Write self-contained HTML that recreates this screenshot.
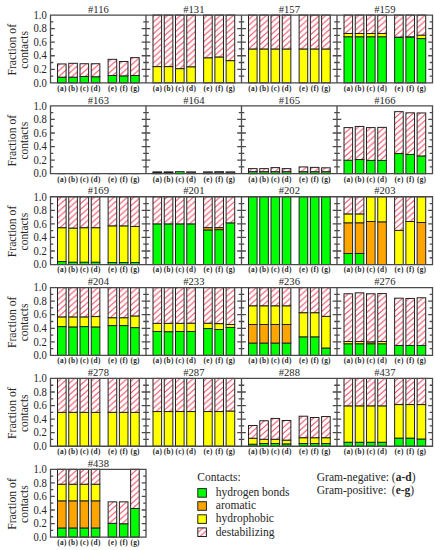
<!DOCTYPE html><html><head><meta charset="utf-8"><title>Fraction of contacts</title>
<style>html,body{margin:0;padding:0;background:#fff;}svg{display:block;}text{font-family:"Liberation Serif",serif;fill:#262626;}</style></head><body>
<svg width="435" height="550" viewBox="0 0 435 550">
<defs>
<pattern id="h" patternUnits="userSpaceOnUse" width="6.6" height="5.85"><rect width="6.6" height="5.85" fill="#fff"/><path d="M-6.6,5.85 L6.6,-5.85 M-6.6,11.7 L13.2,-5.85 M0,11.7 L13.2,0" stroke="#f2455c" stroke-width="0.95" fill="none"/></pattern>
</defs>
<rect width="435" height="550" fill="#fff"/>
<rect x="57.5" y="77.15" width="8.6" height="5.7" fill="#00ff00" stroke="#222" stroke-width="1"/>
<rect x="57.5" y="63.93" width="8.6" height="13.22" fill="url(#h)" stroke="#222" stroke-width="1"/>
<rect x="68.75" y="77.15" width="8.6" height="5.7" fill="#00ff00" stroke="#222" stroke-width="1"/>
<rect x="68.75" y="63.32" width="8.6" height="13.83" fill="url(#h)" stroke="#222" stroke-width="1"/>
<rect x="80" y="76.48" width="8.6" height="6.37" fill="#00ff00" stroke="#222" stroke-width="1"/>
<rect x="80" y="63.73" width="8.6" height="12.75" fill="url(#h)" stroke="#222" stroke-width="1"/>
<rect x="91.25" y="76.75" width="8.6" height="6.1" fill="#00ff00" stroke="#222" stroke-width="1"/>
<rect x="91.25" y="63.73" width="8.6" height="13.02" fill="url(#h)" stroke="#222" stroke-width="1"/>
<rect x="108.12" y="75.46" width="8.6" height="7.39" fill="#00ff00" stroke="#222" stroke-width="1"/>
<rect x="108.12" y="59.32" width="8.6" height="16.14" fill="url(#h)" stroke="#222" stroke-width="1"/>
<rect x="119.38" y="75.87" width="8.6" height="6.98" fill="#00ff00" stroke="#222" stroke-width="1"/>
<rect x="119.38" y="61.49" width="8.6" height="14.37" fill="url(#h)" stroke="#222" stroke-width="1"/>
<rect x="130.62" y="75.46" width="8.6" height="7.39" fill="#00ff00" stroke="#222" stroke-width="1"/>
<rect x="130.62" y="57.63" width="8.6" height="17.83" fill="url(#h)" stroke="#222" stroke-width="1"/>
<text transform="translate(98.35,12.65) scale(0.93,1)" font-size="11.4" text-anchor="middle">#116</text>
<text x="62" y="90.65" font-size="7.3" font-weight="bold" letter-spacing="0.3" fill="#111" text-anchor="middle">(a)</text>
<text x="73.25" y="90.65" font-size="7.3" font-weight="bold" letter-spacing="0.3" fill="#111" text-anchor="middle">(b)</text>
<text x="84.5" y="90.65" font-size="7.3" font-weight="bold" letter-spacing="0.3" fill="#111" text-anchor="middle">(c)</text>
<text x="95.75" y="90.65" font-size="7.3" font-weight="bold" letter-spacing="0.3" fill="#111" text-anchor="middle">(d)</text>
<text x="112.62" y="90.65" font-size="7.3" font-weight="bold" letter-spacing="0.3" fill="#111" text-anchor="middle">(e)</text>
<text x="123.88" y="90.65" font-size="7.3" font-weight="bold" letter-spacing="0.3" fill="#111" text-anchor="middle">(f)</text>
<text x="135.12" y="90.65" font-size="7.3" font-weight="bold" letter-spacing="0.3" fill="#111" text-anchor="middle">(g)</text>
<rect x="153" y="66.58" width="8.6" height="16.27" fill="#ffff00" stroke="#222" stroke-width="1"/>
<rect x="153" y="15.05" width="8.6" height="51.53" fill="url(#h)" stroke="#222" stroke-width="1"/>
<rect x="164.25" y="66.58" width="8.6" height="16.27" fill="#ffff00" stroke="#222" stroke-width="1"/>
<rect x="164.25" y="15.05" width="8.6" height="51.53" fill="url(#h)" stroke="#222" stroke-width="1"/>
<rect x="175.5" y="68.61" width="8.6" height="14.24" fill="#ffff00" stroke="#222" stroke-width="1"/>
<rect x="175.5" y="15.05" width="8.6" height="53.56" fill="url(#h)" stroke="#222" stroke-width="1"/>
<rect x="186.75" y="66.78" width="8.6" height="16.07" fill="#ffff00" stroke="#222" stroke-width="1"/>
<rect x="186.75" y="15.05" width="8.6" height="51.73" fill="url(#h)" stroke="#222" stroke-width="1"/>
<rect x="203.62" y="57.76" width="8.6" height="25.09" fill="#ffff00" stroke="#222" stroke-width="1"/>
<rect x="203.62" y="15.05" width="8.6" height="42.71" fill="url(#h)" stroke="#222" stroke-width="1"/>
<rect x="214.88" y="56.95" width="8.6" height="25.9" fill="#ffff00" stroke="#222" stroke-width="1"/>
<rect x="214.88" y="15.05" width="8.6" height="41.9" fill="url(#h)" stroke="#222" stroke-width="1"/>
<rect x="226.12" y="60.61" width="8.6" height="22.24" fill="#ffff00" stroke="#222" stroke-width="1"/>
<rect x="226.12" y="15.05" width="8.6" height="45.56" fill="url(#h)" stroke="#222" stroke-width="1"/>
<text transform="translate(193.85,12.65) scale(0.93,1)" font-size="11.4" text-anchor="middle">#131</text>
<text x="157.5" y="90.65" font-size="7.3" font-weight="bold" letter-spacing="0.3" fill="#111" text-anchor="middle">(a)</text>
<text x="168.75" y="90.65" font-size="7.3" font-weight="bold" letter-spacing="0.3" fill="#111" text-anchor="middle">(b)</text>
<text x="180" y="90.65" font-size="7.3" font-weight="bold" letter-spacing="0.3" fill="#111" text-anchor="middle">(c)</text>
<text x="191.25" y="90.65" font-size="7.3" font-weight="bold" letter-spacing="0.3" fill="#111" text-anchor="middle">(d)</text>
<text x="208.12" y="90.65" font-size="7.3" font-weight="bold" letter-spacing="0.3" fill="#111" text-anchor="middle">(e)</text>
<text x="219.38" y="90.65" font-size="7.3" font-weight="bold" letter-spacing="0.3" fill="#111" text-anchor="middle">(f)</text>
<text x="230.62" y="90.65" font-size="7.3" font-weight="bold" letter-spacing="0.3" fill="#111" text-anchor="middle">(g)</text>
<rect x="248.5" y="48.95" width="8.6" height="33.9" fill="#ffff00" stroke="#222" stroke-width="1"/>
<rect x="248.5" y="15.05" width="8.6" height="33.9" fill="url(#h)" stroke="#222" stroke-width="1"/>
<rect x="259.75" y="48.95" width="8.6" height="33.9" fill="#ffff00" stroke="#222" stroke-width="1"/>
<rect x="259.75" y="15.05" width="8.6" height="33.9" fill="url(#h)" stroke="#222" stroke-width="1"/>
<rect x="271" y="48.95" width="8.6" height="33.9" fill="#ffff00" stroke="#222" stroke-width="1"/>
<rect x="271" y="15.05" width="8.6" height="33.9" fill="url(#h)" stroke="#222" stroke-width="1"/>
<rect x="282.25" y="48.95" width="8.6" height="33.9" fill="#ffff00" stroke="#222" stroke-width="1"/>
<rect x="282.25" y="15.05" width="8.6" height="33.9" fill="url(#h)" stroke="#222" stroke-width="1"/>
<rect x="299.12" y="48.95" width="8.6" height="33.9" fill="#ffff00" stroke="#222" stroke-width="1"/>
<rect x="299.12" y="15.05" width="8.6" height="33.9" fill="url(#h)" stroke="#222" stroke-width="1"/>
<rect x="310.38" y="48.95" width="8.6" height="33.9" fill="#ffff00" stroke="#222" stroke-width="1"/>
<rect x="310.38" y="15.05" width="8.6" height="33.9" fill="url(#h)" stroke="#222" stroke-width="1"/>
<rect x="321.62" y="48.95" width="8.6" height="33.9" fill="#ffff00" stroke="#222" stroke-width="1"/>
<rect x="321.62" y="15.05" width="8.6" height="33.9" fill="url(#h)" stroke="#222" stroke-width="1"/>
<text transform="translate(289.35,12.65) scale(0.93,1)" font-size="11.4" text-anchor="middle">#157</text>
<text x="253" y="90.65" font-size="7.3" font-weight="bold" letter-spacing="0.3" fill="#111" text-anchor="middle">(a)</text>
<text x="264.25" y="90.65" font-size="7.3" font-weight="bold" letter-spacing="0.3" fill="#111" text-anchor="middle">(b)</text>
<text x="275.5" y="90.65" font-size="7.3" font-weight="bold" letter-spacing="0.3" fill="#111" text-anchor="middle">(c)</text>
<text x="286.75" y="90.65" font-size="7.3" font-weight="bold" letter-spacing="0.3" fill="#111" text-anchor="middle">(d)</text>
<text x="303.62" y="90.65" font-size="7.3" font-weight="bold" letter-spacing="0.3" fill="#111" text-anchor="middle">(e)</text>
<text x="314.88" y="90.65" font-size="7.3" font-weight="bold" letter-spacing="0.3" fill="#111" text-anchor="middle">(f)</text>
<text x="326.12" y="90.65" font-size="7.3" font-weight="bold" letter-spacing="0.3" fill="#111" text-anchor="middle">(g)</text>
<rect x="344" y="36.75" width="8.6" height="46.1" fill="#00ff00" stroke="#222" stroke-width="1"/>
<rect x="344" y="33.49" width="8.6" height="3.25" fill="#ffff00" stroke="#222" stroke-width="1"/>
<rect x="344" y="15.05" width="8.6" height="18.44" fill="url(#h)" stroke="#222" stroke-width="1"/>
<rect x="355.25" y="36.75" width="8.6" height="46.1" fill="#00ff00" stroke="#222" stroke-width="1"/>
<rect x="355.25" y="33.49" width="8.6" height="3.25" fill="#ffff00" stroke="#222" stroke-width="1"/>
<rect x="355.25" y="15.05" width="8.6" height="18.44" fill="url(#h)" stroke="#222" stroke-width="1"/>
<rect x="366.5" y="36.75" width="8.6" height="46.1" fill="#00ff00" stroke="#222" stroke-width="1"/>
<rect x="366.5" y="33.49" width="8.6" height="3.25" fill="#ffff00" stroke="#222" stroke-width="1"/>
<rect x="366.5" y="15.05" width="8.6" height="18.44" fill="url(#h)" stroke="#222" stroke-width="1"/>
<rect x="377.75" y="36.75" width="8.6" height="46.1" fill="#00ff00" stroke="#222" stroke-width="1"/>
<rect x="377.75" y="33.49" width="8.6" height="3.25" fill="#ffff00" stroke="#222" stroke-width="1"/>
<rect x="377.75" y="15.05" width="8.6" height="18.44" fill="url(#h)" stroke="#222" stroke-width="1"/>
<rect x="394.62" y="37.49" width="8.6" height="45.36" fill="#00ff00" stroke="#222" stroke-width="1"/>
<rect x="394.62" y="37.08" width="8.6" height="0.41" fill="#ffff00" stroke="#222" stroke-width="1"/>
<rect x="394.62" y="15.05" width="8.6" height="22.03" fill="url(#h)" stroke="#222" stroke-width="1"/>
<rect x="405.88" y="37.02" width="8.6" height="45.83" fill="#00ff00" stroke="#222" stroke-width="1"/>
<rect x="405.88" y="36.75" width="8.6" height="0.27" fill="#ffff00" stroke="#222" stroke-width="1"/>
<rect x="405.88" y="15.05" width="8.6" height="21.7" fill="url(#h)" stroke="#222" stroke-width="1"/>
<rect x="417.12" y="38.58" width="8.6" height="44.27" fill="#00ff00" stroke="#222" stroke-width="1"/>
<rect x="417.12" y="35.12" width="8.6" height="3.46" fill="#ffff00" stroke="#222" stroke-width="1"/>
<rect x="417.12" y="15.05" width="8.6" height="20.07" fill="url(#h)" stroke="#222" stroke-width="1"/>
<text transform="translate(384.85,12.65) scale(0.93,1)" font-size="11.4" text-anchor="middle">#159</text>
<text x="348.5" y="90.65" font-size="7.3" font-weight="bold" letter-spacing="0.3" fill="#111" text-anchor="middle">(a)</text>
<text x="359.75" y="90.65" font-size="7.3" font-weight="bold" letter-spacing="0.3" fill="#111" text-anchor="middle">(b)</text>
<text x="371" y="90.65" font-size="7.3" font-weight="bold" letter-spacing="0.3" fill="#111" text-anchor="middle">(c)</text>
<text x="382.25" y="90.65" font-size="7.3" font-weight="bold" letter-spacing="0.3" fill="#111" text-anchor="middle">(d)</text>
<text x="399.12" y="90.65" font-size="7.3" font-weight="bold" letter-spacing="0.3" fill="#111" text-anchor="middle">(e)</text>
<text x="410.38" y="90.65" font-size="7.3" font-weight="bold" letter-spacing="0.3" fill="#111" text-anchor="middle">(f)</text>
<text x="421.62" y="90.65" font-size="7.3" font-weight="bold" letter-spacing="0.3" fill="#111" text-anchor="middle">(g)</text>
<line x1="57.5" y1="173.7" x2="66.1" y2="173.7" stroke="#222" stroke-width="1"/>
<line x1="68.75" y1="173.7" x2="77.35" y2="173.7" stroke="#222" stroke-width="1"/>
<line x1="80" y1="173.7" x2="88.6" y2="173.7" stroke="#222" stroke-width="1"/>
<line x1="91.25" y1="173.7" x2="99.85" y2="173.7" stroke="#222" stroke-width="1"/>
<line x1="108.12" y1="173.7" x2="116.72" y2="173.7" stroke="#222" stroke-width="1"/>
<line x1="119.38" y1="173.7" x2="127.97" y2="173.7" stroke="#222" stroke-width="1"/>
<line x1="130.62" y1="173.7" x2="139.22" y2="173.7" stroke="#222" stroke-width="1"/>
<text transform="translate(98.35,103.5) scale(0.93,1)" font-size="11.4" text-anchor="middle">#163</text>
<text x="62" y="181.5" font-size="7.3" font-weight="bold" letter-spacing="0.3" fill="#111" text-anchor="middle">(a)</text>
<text x="73.25" y="181.5" font-size="7.3" font-weight="bold" letter-spacing="0.3" fill="#111" text-anchor="middle">(b)</text>
<text x="84.5" y="181.5" font-size="7.3" font-weight="bold" letter-spacing="0.3" fill="#111" text-anchor="middle">(c)</text>
<text x="95.75" y="181.5" font-size="7.3" font-weight="bold" letter-spacing="0.3" fill="#111" text-anchor="middle">(d)</text>
<text x="112.62" y="181.5" font-size="7.3" font-weight="bold" letter-spacing="0.3" fill="#111" text-anchor="middle">(e)</text>
<text x="123.88" y="181.5" font-size="7.3" font-weight="bold" letter-spacing="0.3" fill="#111" text-anchor="middle">(f)</text>
<text x="135.12" y="181.5" font-size="7.3" font-weight="bold" letter-spacing="0.3" fill="#111" text-anchor="middle">(g)</text>
<rect x="153" y="172.89" width="8.6" height="0.81" fill="#00ff00" stroke="#222" stroke-width="1"/>
<rect x="153" y="171.87" width="8.6" height="1.02" fill="url(#h)" stroke="#222" stroke-width="1"/>
<rect x="164.25" y="172.68" width="8.6" height="1.02" fill="#00ff00" stroke="#222" stroke-width="1"/>
<rect x="164.25" y="171.87" width="8.6" height="0.81" fill="url(#h)" stroke="#222" stroke-width="1"/>
<rect x="175.5" y="171.67" width="8.6" height="2.03" fill="#00ff00" stroke="#222" stroke-width="1"/>
<rect x="186.75" y="173.02" width="8.6" height="0.68" fill="#00ff00" stroke="#222" stroke-width="1"/>
<rect x="186.75" y="171.87" width="8.6" height="1.15" fill="url(#h)" stroke="#222" stroke-width="1"/>
<rect x="203.62" y="173.02" width="8.6" height="0.68" fill="#00ff00" stroke="#222" stroke-width="1"/>
<rect x="203.62" y="171.87" width="8.6" height="1.15" fill="url(#h)" stroke="#222" stroke-width="1"/>
<rect x="214.88" y="172.89" width="8.6" height="0.81" fill="#00ff00" stroke="#222" stroke-width="1"/>
<rect x="214.88" y="171.67" width="8.6" height="1.22" fill="url(#h)" stroke="#222" stroke-width="1"/>
<rect x="226.12" y="173.02" width="8.6" height="0.68" fill="#00ff00" stroke="#222" stroke-width="1"/>
<rect x="226.12" y="171.87" width="8.6" height="1.15" fill="url(#h)" stroke="#222" stroke-width="1"/>
<text transform="translate(193.85,103.5) scale(0.93,1)" font-size="11.4" text-anchor="middle">#164</text>
<text x="157.5" y="181.5" font-size="7.3" font-weight="bold" letter-spacing="0.3" fill="#111" text-anchor="middle">(a)</text>
<text x="168.75" y="181.5" font-size="7.3" font-weight="bold" letter-spacing="0.3" fill="#111" text-anchor="middle">(b)</text>
<text x="180" y="181.5" font-size="7.3" font-weight="bold" letter-spacing="0.3" fill="#111" text-anchor="middle">(c)</text>
<text x="191.25" y="181.5" font-size="7.3" font-weight="bold" letter-spacing="0.3" fill="#111" text-anchor="middle">(d)</text>
<text x="208.12" y="181.5" font-size="7.3" font-weight="bold" letter-spacing="0.3" fill="#111" text-anchor="middle">(e)</text>
<text x="219.38" y="181.5" font-size="7.3" font-weight="bold" letter-spacing="0.3" fill="#111" text-anchor="middle">(f)</text>
<text x="230.62" y="181.5" font-size="7.3" font-weight="bold" letter-spacing="0.3" fill="#111" text-anchor="middle">(g)</text>
<rect x="248.5" y="171.67" width="8.6" height="2.03" fill="#00ff00" stroke="#222" stroke-width="1"/>
<rect x="248.5" y="168.61" width="8.6" height="3.05" fill="url(#h)" stroke="#222" stroke-width="1"/>
<rect x="259.75" y="171.67" width="8.6" height="2.03" fill="#00ff00" stroke="#222" stroke-width="1"/>
<rect x="259.75" y="168.61" width="8.6" height="3.05" fill="url(#h)" stroke="#222" stroke-width="1"/>
<rect x="271" y="171.67" width="8.6" height="2.03" fill="#00ff00" stroke="#222" stroke-width="1"/>
<rect x="271" y="167.6" width="8.6" height="4.07" fill="url(#h)" stroke="#222" stroke-width="1"/>
<rect x="282.25" y="171.67" width="8.6" height="2.03" fill="#00ff00" stroke="#222" stroke-width="1"/>
<rect x="282.25" y="168.61" width="8.6" height="3.05" fill="url(#h)" stroke="#222" stroke-width="1"/>
<rect x="299.12" y="171.67" width="8.6" height="2.03" fill="#00ff00" stroke="#222" stroke-width="1"/>
<rect x="299.12" y="166.92" width="8.6" height="4.75" fill="url(#h)" stroke="#222" stroke-width="1"/>
<rect x="310.38" y="171.67" width="8.6" height="2.03" fill="#00ff00" stroke="#222" stroke-width="1"/>
<rect x="310.38" y="167.39" width="8.6" height="4.27" fill="url(#h)" stroke="#222" stroke-width="1"/>
<rect x="321.62" y="171.67" width="8.6" height="2.03" fill="#00ff00" stroke="#222" stroke-width="1"/>
<rect x="321.62" y="167.8" width="8.6" height="3.86" fill="url(#h)" stroke="#222" stroke-width="1"/>
<text transform="translate(289.35,103.5) scale(0.93,1)" font-size="11.4" text-anchor="middle">#165</text>
<text x="253" y="181.5" font-size="7.3" font-weight="bold" letter-spacing="0.3" fill="#111" text-anchor="middle">(a)</text>
<text x="264.25" y="181.5" font-size="7.3" font-weight="bold" letter-spacing="0.3" fill="#111" text-anchor="middle">(b)</text>
<text x="275.5" y="181.5" font-size="7.3" font-weight="bold" letter-spacing="0.3" fill="#111" text-anchor="middle">(c)</text>
<text x="286.75" y="181.5" font-size="7.3" font-weight="bold" letter-spacing="0.3" fill="#111" text-anchor="middle">(d)</text>
<text x="303.62" y="181.5" font-size="7.3" font-weight="bold" letter-spacing="0.3" fill="#111" text-anchor="middle">(e)</text>
<text x="314.88" y="181.5" font-size="7.3" font-weight="bold" letter-spacing="0.3" fill="#111" text-anchor="middle">(f)</text>
<text x="326.12" y="181.5" font-size="7.3" font-weight="bold" letter-spacing="0.3" fill="#111" text-anchor="middle">(g)</text>
<rect x="344" y="160.21" width="8.6" height="13.49" fill="#00ff00" stroke="#222" stroke-width="1"/>
<rect x="344" y="127.6" width="8.6" height="32.61" fill="url(#h)" stroke="#222" stroke-width="1"/>
<rect x="355.25" y="159.53" width="8.6" height="14.17" fill="#00ff00" stroke="#222" stroke-width="1"/>
<rect x="355.25" y="126.44" width="8.6" height="33.09" fill="url(#h)" stroke="#222" stroke-width="1"/>
<rect x="366.5" y="160.41" width="8.6" height="13.29" fill="#00ff00" stroke="#222" stroke-width="1"/>
<rect x="366.5" y="127.6" width="8.6" height="32.82" fill="url(#h)" stroke="#222" stroke-width="1"/>
<rect x="377.75" y="160.41" width="8.6" height="13.29" fill="#00ff00" stroke="#222" stroke-width="1"/>
<rect x="377.75" y="127.39" width="8.6" height="33.02" fill="url(#h)" stroke="#222" stroke-width="1"/>
<rect x="394.62" y="153.56" width="8.6" height="20.14" fill="#00ff00" stroke="#222" stroke-width="1"/>
<rect x="394.62" y="111.66" width="8.6" height="41.9" fill="url(#h)" stroke="#222" stroke-width="1"/>
<rect x="405.88" y="154.44" width="8.6" height="19.26" fill="#00ff00" stroke="#222" stroke-width="1"/>
<rect x="405.88" y="112.82" width="8.6" height="41.63" fill="url(#h)" stroke="#222" stroke-width="1"/>
<rect x="417.12" y="155.94" width="8.6" height="17.76" fill="#00ff00" stroke="#222" stroke-width="1"/>
<rect x="417.12" y="112.95" width="8.6" height="42.99" fill="url(#h)" stroke="#222" stroke-width="1"/>
<text transform="translate(384.85,103.5) scale(0.93,1)" font-size="11.4" text-anchor="middle">#166</text>
<text x="348.5" y="181.5" font-size="7.3" font-weight="bold" letter-spacing="0.3" fill="#111" text-anchor="middle">(a)</text>
<text x="359.75" y="181.5" font-size="7.3" font-weight="bold" letter-spacing="0.3" fill="#111" text-anchor="middle">(b)</text>
<text x="371" y="181.5" font-size="7.3" font-weight="bold" letter-spacing="0.3" fill="#111" text-anchor="middle">(c)</text>
<text x="382.25" y="181.5" font-size="7.3" font-weight="bold" letter-spacing="0.3" fill="#111" text-anchor="middle">(d)</text>
<text x="399.12" y="181.5" font-size="7.3" font-weight="bold" letter-spacing="0.3" fill="#111" text-anchor="middle">(e)</text>
<text x="410.38" y="181.5" font-size="7.3" font-weight="bold" letter-spacing="0.3" fill="#111" text-anchor="middle">(f)</text>
<text x="421.62" y="181.5" font-size="7.3" font-weight="bold" letter-spacing="0.3" fill="#111" text-anchor="middle">(g)</text>
<rect x="57.5" y="261.57" width="8.6" height="2.98" fill="#00ff00" stroke="#222" stroke-width="1"/>
<rect x="57.5" y="227.67" width="8.6" height="33.9" fill="#ffff00" stroke="#222" stroke-width="1"/>
<rect x="57.5" y="196.75" width="8.6" height="30.92" fill="url(#h)" stroke="#222" stroke-width="1"/>
<rect x="68.75" y="262.18" width="8.6" height="2.37" fill="#00ff00" stroke="#222" stroke-width="1"/>
<rect x="68.75" y="228.07" width="8.6" height="34.1" fill="#ffff00" stroke="#222" stroke-width="1"/>
<rect x="68.75" y="196.75" width="8.6" height="31.32" fill="url(#h)" stroke="#222" stroke-width="1"/>
<rect x="80" y="262.18" width="8.6" height="2.37" fill="#00ff00" stroke="#222" stroke-width="1"/>
<rect x="80" y="227.67" width="8.6" height="34.51" fill="#ffff00" stroke="#222" stroke-width="1"/>
<rect x="80" y="196.75" width="8.6" height="30.92" fill="url(#h)" stroke="#222" stroke-width="1"/>
<rect x="91.25" y="262.18" width="8.6" height="2.37" fill="#00ff00" stroke="#222" stroke-width="1"/>
<rect x="91.25" y="227.67" width="8.6" height="34.51" fill="#ffff00" stroke="#222" stroke-width="1"/>
<rect x="91.25" y="196.75" width="8.6" height="30.92" fill="url(#h)" stroke="#222" stroke-width="1"/>
<rect x="108.12" y="262.52" width="8.6" height="2.03" fill="#00ff00" stroke="#222" stroke-width="1"/>
<rect x="108.12" y="225.84" width="8.6" height="36.68" fill="#ffff00" stroke="#222" stroke-width="1"/>
<rect x="108.12" y="196.75" width="8.6" height="29.09" fill="url(#h)" stroke="#222" stroke-width="1"/>
<rect x="119.38" y="262.52" width="8.6" height="2.03" fill="#00ff00" stroke="#222" stroke-width="1"/>
<rect x="119.38" y="225.84" width="8.6" height="36.68" fill="#ffff00" stroke="#222" stroke-width="1"/>
<rect x="119.38" y="196.75" width="8.6" height="29.09" fill="url(#h)" stroke="#222" stroke-width="1"/>
<rect x="130.62" y="262.52" width="8.6" height="2.03" fill="#00ff00" stroke="#222" stroke-width="1"/>
<rect x="130.62" y="226.45" width="8.6" height="36.07" fill="#ffff00" stroke="#222" stroke-width="1"/>
<rect x="130.62" y="196.75" width="8.6" height="29.7" fill="url(#h)" stroke="#222" stroke-width="1"/>
<text transform="translate(98.35,194.35) scale(0.93,1)" font-size="11.4" text-anchor="middle">#169</text>
<text x="62" y="272.35" font-size="7.3" font-weight="bold" letter-spacing="0.3" fill="#111" text-anchor="middle">(a)</text>
<text x="73.25" y="272.35" font-size="7.3" font-weight="bold" letter-spacing="0.3" fill="#111" text-anchor="middle">(b)</text>
<text x="84.5" y="272.35" font-size="7.3" font-weight="bold" letter-spacing="0.3" fill="#111" text-anchor="middle">(c)</text>
<text x="95.75" y="272.35" font-size="7.3" font-weight="bold" letter-spacing="0.3" fill="#111" text-anchor="middle">(d)</text>
<text x="112.62" y="272.35" font-size="7.3" font-weight="bold" letter-spacing="0.3" fill="#111" text-anchor="middle">(e)</text>
<text x="123.88" y="272.35" font-size="7.3" font-weight="bold" letter-spacing="0.3" fill="#111" text-anchor="middle">(f)</text>
<text x="135.12" y="272.35" font-size="7.3" font-weight="bold" letter-spacing="0.3" fill="#111" text-anchor="middle">(g)</text>
<rect x="153" y="223.87" width="8.6" height="40.68" fill="#00ff00" stroke="#222" stroke-width="1"/>
<rect x="153" y="196.75" width="8.6" height="27.12" fill="url(#h)" stroke="#222" stroke-width="1"/>
<rect x="164.25" y="223.87" width="8.6" height="40.68" fill="#00ff00" stroke="#222" stroke-width="1"/>
<rect x="164.25" y="196.75" width="8.6" height="27.12" fill="url(#h)" stroke="#222" stroke-width="1"/>
<rect x="175.5" y="223.87" width="8.6" height="40.68" fill="#00ff00" stroke="#222" stroke-width="1"/>
<rect x="175.5" y="196.75" width="8.6" height="27.12" fill="url(#h)" stroke="#222" stroke-width="1"/>
<rect x="186.75" y="223.87" width="8.6" height="40.68" fill="#00ff00" stroke="#222" stroke-width="1"/>
<rect x="186.75" y="196.75" width="8.6" height="27.12" fill="url(#h)" stroke="#222" stroke-width="1"/>
<rect x="203.62" y="229.97" width="8.6" height="34.58" fill="#00ff00" stroke="#222" stroke-width="1"/>
<rect x="203.62" y="227.6" width="8.6" height="2.37" fill="#ffa500" stroke="#222" stroke-width="1"/>
<rect x="203.62" y="196.75" width="8.6" height="30.85" fill="url(#h)" stroke="#222" stroke-width="1"/>
<rect x="214.88" y="229.63" width="8.6" height="34.92" fill="#00ff00" stroke="#222" stroke-width="1"/>
<rect x="214.88" y="227.6" width="8.6" height="2.03" fill="#ffa500" stroke="#222" stroke-width="1"/>
<rect x="214.88" y="196.75" width="8.6" height="30.85" fill="url(#h)" stroke="#222" stroke-width="1"/>
<rect x="226.12" y="222.85" width="8.6" height="41.7" fill="#00ff00" stroke="#222" stroke-width="1"/>
<rect x="226.12" y="196.75" width="8.6" height="26.1" fill="url(#h)" stroke="#222" stroke-width="1"/>
<text transform="translate(193.85,194.35) scale(0.93,1)" font-size="11.4" text-anchor="middle">#201</text>
<text x="157.5" y="272.35" font-size="7.3" font-weight="bold" letter-spacing="0.3" fill="#111" text-anchor="middle">(a)</text>
<text x="168.75" y="272.35" font-size="7.3" font-weight="bold" letter-spacing="0.3" fill="#111" text-anchor="middle">(b)</text>
<text x="180" y="272.35" font-size="7.3" font-weight="bold" letter-spacing="0.3" fill="#111" text-anchor="middle">(c)</text>
<text x="191.25" y="272.35" font-size="7.3" font-weight="bold" letter-spacing="0.3" fill="#111" text-anchor="middle">(d)</text>
<text x="208.12" y="272.35" font-size="7.3" font-weight="bold" letter-spacing="0.3" fill="#111" text-anchor="middle">(e)</text>
<text x="219.38" y="272.35" font-size="7.3" font-weight="bold" letter-spacing="0.3" fill="#111" text-anchor="middle">(f)</text>
<text x="230.62" y="272.35" font-size="7.3" font-weight="bold" letter-spacing="0.3" fill="#111" text-anchor="middle">(g)</text>
<rect x="248.5" y="196.75" width="8.6" height="67.8" fill="#00ff00" stroke="#222" stroke-width="1"/>
<rect x="259.75" y="196.75" width="8.6" height="67.8" fill="#00ff00" stroke="#222" stroke-width="1"/>
<rect x="271" y="196.75" width="8.6" height="67.8" fill="#00ff00" stroke="#222" stroke-width="1"/>
<rect x="282.25" y="196.75" width="8.6" height="67.8" fill="#00ff00" stroke="#222" stroke-width="1"/>
<rect x="299.12" y="196.75" width="8.6" height="67.8" fill="#00ff00" stroke="#222" stroke-width="1"/>
<rect x="310.38" y="196.75" width="8.6" height="67.8" fill="#00ff00" stroke="#222" stroke-width="1"/>
<rect x="321.62" y="196.75" width="8.6" height="67.8" fill="#00ff00" stroke="#222" stroke-width="1"/>
<text transform="translate(289.35,194.35) scale(0.93,1)" font-size="11.4" text-anchor="middle">#202</text>
<text x="253" y="272.35" font-size="7.3" font-weight="bold" letter-spacing="0.3" fill="#111" text-anchor="middle">(a)</text>
<text x="264.25" y="272.35" font-size="7.3" font-weight="bold" letter-spacing="0.3" fill="#111" text-anchor="middle">(b)</text>
<text x="275.5" y="272.35" font-size="7.3" font-weight="bold" letter-spacing="0.3" fill="#111" text-anchor="middle">(c)</text>
<text x="286.75" y="272.35" font-size="7.3" font-weight="bold" letter-spacing="0.3" fill="#111" text-anchor="middle">(d)</text>
<text x="303.62" y="272.35" font-size="7.3" font-weight="bold" letter-spacing="0.3" fill="#111" text-anchor="middle">(e)</text>
<text x="314.88" y="272.35" font-size="7.3" font-weight="bold" letter-spacing="0.3" fill="#111" text-anchor="middle">(f)</text>
<text x="326.12" y="272.35" font-size="7.3" font-weight="bold" letter-spacing="0.3" fill="#111" text-anchor="middle">(g)</text>
<rect x="344" y="253.5" width="8.6" height="11.05" fill="#00ff00" stroke="#222" stroke-width="1"/>
<rect x="344" y="222.79" width="8.6" height="30.71" fill="#ffa500" stroke="#222" stroke-width="1"/>
<rect x="344" y="213.9" width="8.6" height="8.88" fill="#ffff00" stroke="#222" stroke-width="1"/>
<rect x="344" y="196.75" width="8.6" height="17.15" fill="url(#h)" stroke="#222" stroke-width="1"/>
<rect x="355.25" y="253.5" width="8.6" height="11.05" fill="#00ff00" stroke="#222" stroke-width="1"/>
<rect x="355.25" y="222.79" width="8.6" height="30.71" fill="#ffa500" stroke="#222" stroke-width="1"/>
<rect x="355.25" y="213.9" width="8.6" height="8.88" fill="#ffff00" stroke="#222" stroke-width="1"/>
<rect x="355.25" y="196.75" width="8.6" height="17.15" fill="url(#h)" stroke="#222" stroke-width="1"/>
<rect x="366.5" y="221.5" width="8.6" height="43.05" fill="#ffa500" stroke="#222" stroke-width="1"/>
<rect x="366.5" y="196.75" width="8.6" height="24.75" fill="#ffff00" stroke="#222" stroke-width="1"/>
<rect x="377.75" y="221.84" width="8.6" height="42.71" fill="#ffa500" stroke="#222" stroke-width="1"/>
<rect x="377.75" y="196.75" width="8.6" height="25.09" fill="#ffff00" stroke="#222" stroke-width="1"/>
<rect x="394.62" y="230.38" width="8.6" height="34.17" fill="#ffff00" stroke="#222" stroke-width="1"/>
<rect x="394.62" y="196.75" width="8.6" height="33.63" fill="url(#h)" stroke="#222" stroke-width="1"/>
<rect x="405.88" y="221.5" width="8.6" height="43.05" fill="#ffff00" stroke="#222" stroke-width="1"/>
<rect x="405.88" y="196.75" width="8.6" height="24.75" fill="url(#h)" stroke="#222" stroke-width="1"/>
<rect x="417.12" y="222.51" width="8.6" height="42.04" fill="#ffa500" stroke="#222" stroke-width="1"/>
<rect x="417.12" y="196.75" width="8.6" height="25.76" fill="#ffff00" stroke="#222" stroke-width="1"/>
<text transform="translate(384.85,194.35) scale(0.93,1)" font-size="11.4" text-anchor="middle">#203</text>
<text x="348.5" y="272.35" font-size="7.3" font-weight="bold" letter-spacing="0.3" fill="#111" text-anchor="middle">(a)</text>
<text x="359.75" y="272.35" font-size="7.3" font-weight="bold" letter-spacing="0.3" fill="#111" text-anchor="middle">(b)</text>
<text x="371" y="272.35" font-size="7.3" font-weight="bold" letter-spacing="0.3" fill="#111" text-anchor="middle">(c)</text>
<text x="382.25" y="272.35" font-size="7.3" font-weight="bold" letter-spacing="0.3" fill="#111" text-anchor="middle">(d)</text>
<text x="399.12" y="272.35" font-size="7.3" font-weight="bold" letter-spacing="0.3" fill="#111" text-anchor="middle">(e)</text>
<text x="410.38" y="272.35" font-size="7.3" font-weight="bold" letter-spacing="0.3" fill="#111" text-anchor="middle">(f)</text>
<text x="421.62" y="272.35" font-size="7.3" font-weight="bold" letter-spacing="0.3" fill="#111" text-anchor="middle">(g)</text>
<rect x="57.5" y="326.58" width="8.6" height="28.81" fill="#00ff00" stroke="#222" stroke-width="1"/>
<rect x="57.5" y="316.89" width="8.6" height="9.7" fill="#ffff00" stroke="#222" stroke-width="1"/>
<rect x="57.5" y="287.6" width="8.6" height="29.29" fill="url(#h)" stroke="#222" stroke-width="1"/>
<rect x="68.75" y="326.92" width="8.6" height="28.48" fill="#00ff00" stroke="#222" stroke-width="1"/>
<rect x="68.75" y="316.89" width="8.6" height="10.03" fill="#ffff00" stroke="#222" stroke-width="1"/>
<rect x="68.75" y="287.6" width="8.6" height="29.29" fill="url(#h)" stroke="#222" stroke-width="1"/>
<rect x="80" y="326.58" width="8.6" height="28.81" fill="#00ff00" stroke="#222" stroke-width="1"/>
<rect x="80" y="316.89" width="8.6" height="9.7" fill="#ffff00" stroke="#222" stroke-width="1"/>
<rect x="80" y="287.6" width="8.6" height="29.29" fill="url(#h)" stroke="#222" stroke-width="1"/>
<rect x="91.25" y="326.92" width="8.6" height="28.48" fill="#00ff00" stroke="#222" stroke-width="1"/>
<rect x="91.25" y="316.55" width="8.6" height="10.37" fill="#ffff00" stroke="#222" stroke-width="1"/>
<rect x="91.25" y="287.6" width="8.6" height="28.95" fill="url(#h)" stroke="#222" stroke-width="1"/>
<rect x="108.12" y="325.57" width="8.6" height="29.83" fill="#00ff00" stroke="#222" stroke-width="1"/>
<rect x="108.12" y="317.7" width="8.6" height="7.86" fill="#ffff00" stroke="#222" stroke-width="1"/>
<rect x="108.12" y="287.6" width="8.6" height="30.1" fill="url(#h)" stroke="#222" stroke-width="1"/>
<rect x="119.38" y="325.57" width="8.6" height="29.83" fill="#00ff00" stroke="#222" stroke-width="1"/>
<rect x="119.38" y="317.7" width="8.6" height="7.86" fill="#ffff00" stroke="#222" stroke-width="1"/>
<rect x="119.38" y="287.6" width="8.6" height="30.1" fill="url(#h)" stroke="#222" stroke-width="1"/>
<rect x="130.62" y="327.6" width="8.6" height="27.8" fill="#00ff00" stroke="#222" stroke-width="1"/>
<rect x="130.62" y="315.94" width="8.6" height="11.66" fill="#ffff00" stroke="#222" stroke-width="1"/>
<rect x="130.62" y="287.6" width="8.6" height="28.34" fill="url(#h)" stroke="#222" stroke-width="1"/>
<text transform="translate(98.35,285.2) scale(0.93,1)" font-size="11.4" text-anchor="middle">#204</text>
<text x="62" y="363.2" font-size="7.3" font-weight="bold" letter-spacing="0.3" fill="#111" text-anchor="middle">(a)</text>
<text x="73.25" y="363.2" font-size="7.3" font-weight="bold" letter-spacing="0.3" fill="#111" text-anchor="middle">(b)</text>
<text x="84.5" y="363.2" font-size="7.3" font-weight="bold" letter-spacing="0.3" fill="#111" text-anchor="middle">(c)</text>
<text x="95.75" y="363.2" font-size="7.3" font-weight="bold" letter-spacing="0.3" fill="#111" text-anchor="middle">(d)</text>
<text x="112.62" y="363.2" font-size="7.3" font-weight="bold" letter-spacing="0.3" fill="#111" text-anchor="middle">(e)</text>
<text x="123.88" y="363.2" font-size="7.3" font-weight="bold" letter-spacing="0.3" fill="#111" text-anchor="middle">(f)</text>
<text x="135.12" y="363.2" font-size="7.3" font-weight="bold" letter-spacing="0.3" fill="#111" text-anchor="middle">(g)</text>
<rect x="153" y="331.47" width="8.6" height="23.93" fill="#00ff00" stroke="#222" stroke-width="1"/>
<rect x="153" y="323.33" width="8.6" height="8.14" fill="#ffff00" stroke="#222" stroke-width="1"/>
<rect x="153" y="287.6" width="8.6" height="35.73" fill="url(#h)" stroke="#222" stroke-width="1"/>
<rect x="164.25" y="331.67" width="8.6" height="23.73" fill="#00ff00" stroke="#222" stroke-width="1"/>
<rect x="164.25" y="323.33" width="8.6" height="8.34" fill="#ffff00" stroke="#222" stroke-width="1"/>
<rect x="164.25" y="287.6" width="8.6" height="35.73" fill="url(#h)" stroke="#222" stroke-width="1"/>
<rect x="175.5" y="331.47" width="8.6" height="23.93" fill="#00ff00" stroke="#222" stroke-width="1"/>
<rect x="175.5" y="323.33" width="8.6" height="8.14" fill="#ffff00" stroke="#222" stroke-width="1"/>
<rect x="175.5" y="287.6" width="8.6" height="35.73" fill="url(#h)" stroke="#222" stroke-width="1"/>
<rect x="186.75" y="331.47" width="8.6" height="23.93" fill="#00ff00" stroke="#222" stroke-width="1"/>
<rect x="186.75" y="323.13" width="8.6" height="8.34" fill="#ffff00" stroke="#222" stroke-width="1"/>
<rect x="186.75" y="287.6" width="8.6" height="35.53" fill="url(#h)" stroke="#222" stroke-width="1"/>
<rect x="203.62" y="328.55" width="8.6" height="26.85" fill="#00ff00" stroke="#222" stroke-width="1"/>
<rect x="203.62" y="323.19" width="8.6" height="5.36" fill="#ffff00" stroke="#222" stroke-width="1"/>
<rect x="203.62" y="287.6" width="8.6" height="35.59" fill="url(#h)" stroke="#222" stroke-width="1"/>
<rect x="214.88" y="329.5" width="8.6" height="25.9" fill="#00ff00" stroke="#222" stroke-width="1"/>
<rect x="214.88" y="323.6" width="8.6" height="5.9" fill="#ffff00" stroke="#222" stroke-width="1"/>
<rect x="214.88" y="287.6" width="8.6" height="36" fill="url(#h)" stroke="#222" stroke-width="1"/>
<rect x="226.12" y="327.47" width="8.6" height="27.93" fill="#00ff00" stroke="#222" stroke-width="1"/>
<rect x="226.12" y="324.48" width="8.6" height="2.98" fill="#ffff00" stroke="#222" stroke-width="1"/>
<rect x="226.12" y="287.6" width="8.6" height="36.88" fill="url(#h)" stroke="#222" stroke-width="1"/>
<text transform="translate(193.85,285.2) scale(0.93,1)" font-size="11.4" text-anchor="middle">#233</text>
<text x="157.5" y="363.2" font-size="7.3" font-weight="bold" letter-spacing="0.3" fill="#111" text-anchor="middle">(a)</text>
<text x="168.75" y="363.2" font-size="7.3" font-weight="bold" letter-spacing="0.3" fill="#111" text-anchor="middle">(b)</text>
<text x="180" y="363.2" font-size="7.3" font-weight="bold" letter-spacing="0.3" fill="#111" text-anchor="middle">(c)</text>
<text x="191.25" y="363.2" font-size="7.3" font-weight="bold" letter-spacing="0.3" fill="#111" text-anchor="middle">(d)</text>
<text x="208.12" y="363.2" font-size="7.3" font-weight="bold" letter-spacing="0.3" fill="#111" text-anchor="middle">(e)</text>
<text x="219.38" y="363.2" font-size="7.3" font-weight="bold" letter-spacing="0.3" fill="#111" text-anchor="middle">(f)</text>
<text x="230.62" y="363.2" font-size="7.3" font-weight="bold" letter-spacing="0.3" fill="#111" text-anchor="middle">(g)</text>
<rect x="248.5" y="343.06" width="8.6" height="12.34" fill="#00ff00" stroke="#222" stroke-width="1"/>
<rect x="248.5" y="324.48" width="8.6" height="18.58" fill="#ffa500" stroke="#222" stroke-width="1"/>
<rect x="248.5" y="305.77" width="8.6" height="18.71" fill="#ffff00" stroke="#222" stroke-width="1"/>
<rect x="248.5" y="287.6" width="8.6" height="18.17" fill="url(#h)" stroke="#222" stroke-width="1"/>
<rect x="259.75" y="343.06" width="8.6" height="12.34" fill="#00ff00" stroke="#222" stroke-width="1"/>
<rect x="259.75" y="324.48" width="8.6" height="18.58" fill="#ffa500" stroke="#222" stroke-width="1"/>
<rect x="259.75" y="305.77" width="8.6" height="18.71" fill="#ffff00" stroke="#222" stroke-width="1"/>
<rect x="259.75" y="287.6" width="8.6" height="18.17" fill="url(#h)" stroke="#222" stroke-width="1"/>
<rect x="271" y="343.06" width="8.6" height="12.34" fill="#00ff00" stroke="#222" stroke-width="1"/>
<rect x="271" y="324.48" width="8.6" height="18.58" fill="#ffa500" stroke="#222" stroke-width="1"/>
<rect x="271" y="305.77" width="8.6" height="18.71" fill="#ffff00" stroke="#222" stroke-width="1"/>
<rect x="271" y="287.6" width="8.6" height="18.17" fill="url(#h)" stroke="#222" stroke-width="1"/>
<rect x="282.25" y="343.06" width="8.6" height="12.34" fill="#00ff00" stroke="#222" stroke-width="1"/>
<rect x="282.25" y="324.48" width="8.6" height="18.58" fill="#ffa500" stroke="#222" stroke-width="1"/>
<rect x="282.25" y="305.77" width="8.6" height="18.71" fill="#ffff00" stroke="#222" stroke-width="1"/>
<rect x="282.25" y="287.6" width="8.6" height="18.17" fill="url(#h)" stroke="#222" stroke-width="1"/>
<rect x="299.12" y="336.82" width="8.6" height="18.58" fill="#00ff00" stroke="#222" stroke-width="1"/>
<rect x="299.12" y="312.69" width="8.6" height="24.14" fill="#ffff00" stroke="#222" stroke-width="1"/>
<rect x="299.12" y="287.6" width="8.6" height="25.09" fill="url(#h)" stroke="#222" stroke-width="1"/>
<rect x="310.38" y="336.82" width="8.6" height="18.58" fill="#00ff00" stroke="#222" stroke-width="1"/>
<rect x="310.38" y="312.69" width="8.6" height="24.14" fill="#ffff00" stroke="#222" stroke-width="1"/>
<rect x="310.38" y="287.6" width="8.6" height="25.09" fill="url(#h)" stroke="#222" stroke-width="1"/>
<rect x="321.62" y="348.01" width="8.6" height="7.39" fill="#00ff00" stroke="#222" stroke-width="1"/>
<rect x="321.62" y="316.35" width="8.6" height="31.66" fill="#ffff00" stroke="#222" stroke-width="1"/>
<rect x="321.62" y="287.6" width="8.6" height="28.75" fill="url(#h)" stroke="#222" stroke-width="1"/>
<text transform="translate(289.35,285.2) scale(0.93,1)" font-size="11.4" text-anchor="middle">#236</text>
<text x="253" y="363.2" font-size="7.3" font-weight="bold" letter-spacing="0.3" fill="#111" text-anchor="middle">(a)</text>
<text x="264.25" y="363.2" font-size="7.3" font-weight="bold" letter-spacing="0.3" fill="#111" text-anchor="middle">(b)</text>
<text x="275.5" y="363.2" font-size="7.3" font-weight="bold" letter-spacing="0.3" fill="#111" text-anchor="middle">(c)</text>
<text x="286.75" y="363.2" font-size="7.3" font-weight="bold" letter-spacing="0.3" fill="#111" text-anchor="middle">(d)</text>
<text x="303.62" y="363.2" font-size="7.3" font-weight="bold" letter-spacing="0.3" fill="#111" text-anchor="middle">(e)</text>
<text x="314.88" y="363.2" font-size="7.3" font-weight="bold" letter-spacing="0.3" fill="#111" text-anchor="middle">(f)</text>
<text x="326.12" y="363.2" font-size="7.3" font-weight="bold" letter-spacing="0.3" fill="#111" text-anchor="middle">(g)</text>
<rect x="344" y="343.74" width="8.6" height="11.66" fill="#00ff00" stroke="#222" stroke-width="1"/>
<rect x="344" y="341.5" width="8.6" height="2.24" fill="#ffff00" stroke="#222" stroke-width="1"/>
<rect x="344" y="293.77" width="8.6" height="47.73" fill="url(#h)" stroke="#222" stroke-width="1"/>
<rect x="355.25" y="343.74" width="8.6" height="11.66" fill="#00ff00" stroke="#222" stroke-width="1"/>
<rect x="355.25" y="341.5" width="8.6" height="2.24" fill="#ffff00" stroke="#222" stroke-width="1"/>
<rect x="355.25" y="292.82" width="8.6" height="48.68" fill="url(#h)" stroke="#222" stroke-width="1"/>
<rect x="366.5" y="343.74" width="8.6" height="11.66" fill="#00ff00" stroke="#222" stroke-width="1"/>
<rect x="366.5" y="341.84" width="8.6" height="1.9" fill="#ffa500" stroke="#222" stroke-width="1"/>
<rect x="366.5" y="293.77" width="8.6" height="48.07" fill="url(#h)" stroke="#222" stroke-width="1"/>
<rect x="377.75" y="343.74" width="8.6" height="11.66" fill="#00ff00" stroke="#222" stroke-width="1"/>
<rect x="377.75" y="341.5" width="8.6" height="2.24" fill="#ffff00" stroke="#222" stroke-width="1"/>
<rect x="377.75" y="293.57" width="8.6" height="47.93" fill="url(#h)" stroke="#222" stroke-width="1"/>
<rect x="394.62" y="345.43" width="8.6" height="9.97" fill="#00ff00" stroke="#222" stroke-width="1"/>
<rect x="394.62" y="298.18" width="8.6" height="47.26" fill="url(#h)" stroke="#222" stroke-width="1"/>
<rect x="405.88" y="345.43" width="8.6" height="9.97" fill="#00ff00" stroke="#222" stroke-width="1"/>
<rect x="405.88" y="298.45" width="8.6" height="46.99" fill="url(#h)" stroke="#222" stroke-width="1"/>
<rect x="417.12" y="345.43" width="8.6" height="9.97" fill="#00ff00" stroke="#222" stroke-width="1"/>
<rect x="417.12" y="297.77" width="8.6" height="47.66" fill="url(#h)" stroke="#222" stroke-width="1"/>
<text transform="translate(384.85,285.2) scale(0.93,1)" font-size="11.4" text-anchor="middle">#276</text>
<text x="348.5" y="363.2" font-size="7.3" font-weight="bold" letter-spacing="0.3" fill="#111" text-anchor="middle">(a)</text>
<text x="359.75" y="363.2" font-size="7.3" font-weight="bold" letter-spacing="0.3" fill="#111" text-anchor="middle">(b)</text>
<text x="371" y="363.2" font-size="7.3" font-weight="bold" letter-spacing="0.3" fill="#111" text-anchor="middle">(c)</text>
<text x="382.25" y="363.2" font-size="7.3" font-weight="bold" letter-spacing="0.3" fill="#111" text-anchor="middle">(d)</text>
<text x="399.12" y="363.2" font-size="7.3" font-weight="bold" letter-spacing="0.3" fill="#111" text-anchor="middle">(e)</text>
<text x="410.38" y="363.2" font-size="7.3" font-weight="bold" letter-spacing="0.3" fill="#111" text-anchor="middle">(f)</text>
<text x="421.62" y="363.2" font-size="7.3" font-weight="bold" letter-spacing="0.3" fill="#111" text-anchor="middle">(g)</text>
<rect x="57.5" y="412.35" width="8.6" height="33.9" fill="#ffff00" stroke="#222" stroke-width="1"/>
<rect x="57.5" y="378.45" width="8.6" height="33.9" fill="url(#h)" stroke="#222" stroke-width="1"/>
<rect x="68.75" y="412.35" width="8.6" height="33.9" fill="#ffff00" stroke="#222" stroke-width="1"/>
<rect x="68.75" y="378.45" width="8.6" height="33.9" fill="url(#h)" stroke="#222" stroke-width="1"/>
<rect x="80" y="412.35" width="8.6" height="33.9" fill="#ffff00" stroke="#222" stroke-width="1"/>
<rect x="80" y="378.45" width="8.6" height="33.9" fill="url(#h)" stroke="#222" stroke-width="1"/>
<rect x="91.25" y="412.35" width="8.6" height="33.9" fill="#ffff00" stroke="#222" stroke-width="1"/>
<rect x="91.25" y="378.45" width="8.6" height="33.9" fill="url(#h)" stroke="#222" stroke-width="1"/>
<rect x="108.12" y="412.35" width="8.6" height="33.9" fill="#ffff00" stroke="#222" stroke-width="1"/>
<rect x="108.12" y="378.45" width="8.6" height="33.9" fill="url(#h)" stroke="#222" stroke-width="1"/>
<rect x="119.38" y="412.35" width="8.6" height="33.9" fill="#ffff00" stroke="#222" stroke-width="1"/>
<rect x="119.38" y="378.45" width="8.6" height="33.9" fill="url(#h)" stroke="#222" stroke-width="1"/>
<rect x="130.62" y="412.35" width="8.6" height="33.9" fill="#ffff00" stroke="#222" stroke-width="1"/>
<rect x="130.62" y="378.45" width="8.6" height="33.9" fill="url(#h)" stroke="#222" stroke-width="1"/>
<text transform="translate(98.35,376.05) scale(0.93,1)" font-size="11.4" text-anchor="middle">#278</text>
<text x="62" y="454.05" font-size="7.3" font-weight="bold" letter-spacing="0.3" fill="#111" text-anchor="middle">(a)</text>
<text x="73.25" y="454.05" font-size="7.3" font-weight="bold" letter-spacing="0.3" fill="#111" text-anchor="middle">(b)</text>
<text x="84.5" y="454.05" font-size="7.3" font-weight="bold" letter-spacing="0.3" fill="#111" text-anchor="middle">(c)</text>
<text x="95.75" y="454.05" font-size="7.3" font-weight="bold" letter-spacing="0.3" fill="#111" text-anchor="middle">(d)</text>
<text x="112.62" y="454.05" font-size="7.3" font-weight="bold" letter-spacing="0.3" fill="#111" text-anchor="middle">(e)</text>
<text x="123.88" y="454.05" font-size="7.3" font-weight="bold" letter-spacing="0.3" fill="#111" text-anchor="middle">(f)</text>
<text x="135.12" y="454.05" font-size="7.3" font-weight="bold" letter-spacing="0.3" fill="#111" text-anchor="middle">(g)</text>
<rect x="153" y="411.54" width="8.6" height="34.71" fill="#ffff00" stroke="#222" stroke-width="1"/>
<rect x="153" y="378.45" width="8.6" height="33.09" fill="url(#h)" stroke="#222" stroke-width="1"/>
<rect x="164.25" y="411.54" width="8.6" height="34.71" fill="#ffff00" stroke="#222" stroke-width="1"/>
<rect x="164.25" y="378.45" width="8.6" height="33.09" fill="url(#h)" stroke="#222" stroke-width="1"/>
<rect x="175.5" y="411.54" width="8.6" height="34.71" fill="#ffff00" stroke="#222" stroke-width="1"/>
<rect x="175.5" y="378.45" width="8.6" height="33.09" fill="url(#h)" stroke="#222" stroke-width="1"/>
<rect x="186.75" y="411.54" width="8.6" height="34.71" fill="#ffff00" stroke="#222" stroke-width="1"/>
<rect x="186.75" y="378.45" width="8.6" height="33.09" fill="url(#h)" stroke="#222" stroke-width="1"/>
<rect x="203.62" y="411.54" width="8.6" height="34.71" fill="#ffff00" stroke="#222" stroke-width="1"/>
<rect x="203.62" y="378.45" width="8.6" height="33.09" fill="url(#h)" stroke="#222" stroke-width="1"/>
<rect x="214.88" y="411.54" width="8.6" height="34.71" fill="#ffff00" stroke="#222" stroke-width="1"/>
<rect x="214.88" y="378.45" width="8.6" height="33.09" fill="url(#h)" stroke="#222" stroke-width="1"/>
<rect x="226.12" y="410.99" width="8.6" height="35.26" fill="#ffff00" stroke="#222" stroke-width="1"/>
<rect x="226.12" y="378.45" width="8.6" height="32.54" fill="url(#h)" stroke="#222" stroke-width="1"/>
<text transform="translate(193.85,376.05) scale(0.93,1)" font-size="11.4" text-anchor="middle">#287</text>
<text x="157.5" y="454.05" font-size="7.3" font-weight="bold" letter-spacing="0.3" fill="#111" text-anchor="middle">(a)</text>
<text x="168.75" y="454.05" font-size="7.3" font-weight="bold" letter-spacing="0.3" fill="#111" text-anchor="middle">(b)</text>
<text x="180" y="454.05" font-size="7.3" font-weight="bold" letter-spacing="0.3" fill="#111" text-anchor="middle">(c)</text>
<text x="191.25" y="454.05" font-size="7.3" font-weight="bold" letter-spacing="0.3" fill="#111" text-anchor="middle">(d)</text>
<text x="208.12" y="454.05" font-size="7.3" font-weight="bold" letter-spacing="0.3" fill="#111" text-anchor="middle">(e)</text>
<text x="219.38" y="454.05" font-size="7.3" font-weight="bold" letter-spacing="0.3" fill="#111" text-anchor="middle">(f)</text>
<text x="230.62" y="454.05" font-size="7.3" font-weight="bold" letter-spacing="0.3" fill="#111" text-anchor="middle">(g)</text>
<rect x="248.5" y="444.22" width="8.6" height="2.03" fill="#00ff00" stroke="#222" stroke-width="1"/>
<rect x="248.5" y="438.25" width="8.6" height="5.97" fill="#ffff00" stroke="#222" stroke-width="1"/>
<rect x="248.5" y="425.5" width="8.6" height="12.75" fill="url(#h)" stroke="#222" stroke-width="1"/>
<rect x="259.75" y="443.54" width="8.6" height="2.71" fill="#00ff00" stroke="#222" stroke-width="1"/>
<rect x="259.75" y="439.27" width="8.6" height="4.27" fill="#ffff00" stroke="#222" stroke-width="1"/>
<rect x="259.75" y="420.76" width="8.6" height="18.51" fill="url(#h)" stroke="#222" stroke-width="1"/>
<rect x="271" y="443.54" width="8.6" height="2.71" fill="#00ff00" stroke="#222" stroke-width="1"/>
<rect x="271" y="439.27" width="8.6" height="4.27" fill="#ffff00" stroke="#222" stroke-width="1"/>
<rect x="271" y="418.45" width="8.6" height="20.81" fill="url(#h)" stroke="#222" stroke-width="1"/>
<rect x="282.25" y="443.88" width="8.6" height="2.37" fill="#00ff00" stroke="#222" stroke-width="1"/>
<rect x="282.25" y="440.15" width="8.6" height="3.73" fill="#ffff00" stroke="#222" stroke-width="1"/>
<rect x="282.25" y="420.49" width="8.6" height="19.66" fill="url(#h)" stroke="#222" stroke-width="1"/>
<rect x="299.12" y="443.54" width="8.6" height="2.71" fill="#00ff00" stroke="#222" stroke-width="1"/>
<rect x="299.12" y="437.71" width="8.6" height="5.83" fill="#ffff00" stroke="#222" stroke-width="1"/>
<rect x="299.12" y="416.21" width="8.6" height="21.49" fill="url(#h)" stroke="#222" stroke-width="1"/>
<rect x="310.38" y="443.54" width="8.6" height="2.71" fill="#00ff00" stroke="#222" stroke-width="1"/>
<rect x="310.38" y="437.71" width="8.6" height="5.83" fill="#ffff00" stroke="#222" stroke-width="1"/>
<rect x="310.38" y="417.5" width="8.6" height="20.2" fill="url(#h)" stroke="#222" stroke-width="1"/>
<rect x="321.62" y="443.54" width="8.6" height="2.71" fill="#00ff00" stroke="#222" stroke-width="1"/>
<rect x="321.62" y="437.71" width="8.6" height="5.83" fill="#ffff00" stroke="#222" stroke-width="1"/>
<rect x="321.62" y="416.55" width="8.6" height="21.15" fill="url(#h)" stroke="#222" stroke-width="1"/>
<text transform="translate(289.35,376.05) scale(0.93,1)" font-size="11.4" text-anchor="middle">#288</text>
<text x="253" y="454.05" font-size="7.3" font-weight="bold" letter-spacing="0.3" fill="#111" text-anchor="middle">(a)</text>
<text x="264.25" y="454.05" font-size="7.3" font-weight="bold" letter-spacing="0.3" fill="#111" text-anchor="middle">(b)</text>
<text x="275.5" y="454.05" font-size="7.3" font-weight="bold" letter-spacing="0.3" fill="#111" text-anchor="middle">(c)</text>
<text x="286.75" y="454.05" font-size="7.3" font-weight="bold" letter-spacing="0.3" fill="#111" text-anchor="middle">(d)</text>
<text x="303.62" y="454.05" font-size="7.3" font-weight="bold" letter-spacing="0.3" fill="#111" text-anchor="middle">(e)</text>
<text x="314.88" y="454.05" font-size="7.3" font-weight="bold" letter-spacing="0.3" fill="#111" text-anchor="middle">(f)</text>
<text x="326.12" y="454.05" font-size="7.3" font-weight="bold" letter-spacing="0.3" fill="#111" text-anchor="middle">(g)</text>
<rect x="344" y="442.25" width="8.6" height="4" fill="#00ff00" stroke="#222" stroke-width="1"/>
<rect x="344" y="405.84" width="8.6" height="36.41" fill="#ffff00" stroke="#222" stroke-width="1"/>
<rect x="344" y="378.45" width="8.6" height="27.39" fill="url(#h)" stroke="#222" stroke-width="1"/>
<rect x="355.25" y="442.25" width="8.6" height="4" fill="#00ff00" stroke="#222" stroke-width="1"/>
<rect x="355.25" y="405.84" width="8.6" height="36.41" fill="#ffff00" stroke="#222" stroke-width="1"/>
<rect x="355.25" y="378.45" width="8.6" height="27.39" fill="url(#h)" stroke="#222" stroke-width="1"/>
<rect x="366.5" y="442.25" width="8.6" height="4" fill="#00ff00" stroke="#222" stroke-width="1"/>
<rect x="366.5" y="405.84" width="8.6" height="36.41" fill="#ffff00" stroke="#222" stroke-width="1"/>
<rect x="366.5" y="378.45" width="8.6" height="27.39" fill="url(#h)" stroke="#222" stroke-width="1"/>
<rect x="377.75" y="442.25" width="8.6" height="4" fill="#00ff00" stroke="#222" stroke-width="1"/>
<rect x="377.75" y="405.84" width="8.6" height="36.41" fill="#ffff00" stroke="#222" stroke-width="1"/>
<rect x="377.75" y="378.45" width="8.6" height="27.39" fill="url(#h)" stroke="#222" stroke-width="1"/>
<rect x="394.62" y="438.11" width="8.6" height="8.14" fill="#00ff00" stroke="#222" stroke-width="1"/>
<rect x="394.62" y="404.55" width="8.6" height="33.56" fill="#ffff00" stroke="#222" stroke-width="1"/>
<rect x="394.62" y="378.45" width="8.6" height="26.1" fill="url(#h)" stroke="#222" stroke-width="1"/>
<rect x="405.88" y="438.11" width="8.6" height="8.14" fill="#00ff00" stroke="#222" stroke-width="1"/>
<rect x="405.88" y="404.55" width="8.6" height="33.56" fill="#ffff00" stroke="#222" stroke-width="1"/>
<rect x="405.88" y="378.45" width="8.6" height="26.1" fill="url(#h)" stroke="#222" stroke-width="1"/>
<rect x="417.12" y="439" width="8.6" height="7.25" fill="#00ff00" stroke="#222" stroke-width="1"/>
<rect x="417.12" y="404.55" width="8.6" height="34.44" fill="#ffff00" stroke="#222" stroke-width="1"/>
<rect x="417.12" y="378.45" width="8.6" height="26.1" fill="url(#h)" stroke="#222" stroke-width="1"/>
<text transform="translate(384.85,376.05) scale(0.93,1)" font-size="11.4" text-anchor="middle">#437</text>
<text x="348.5" y="454.05" font-size="7.3" font-weight="bold" letter-spacing="0.3" fill="#111" text-anchor="middle">(a)</text>
<text x="359.75" y="454.05" font-size="7.3" font-weight="bold" letter-spacing="0.3" fill="#111" text-anchor="middle">(b)</text>
<text x="371" y="454.05" font-size="7.3" font-weight="bold" letter-spacing="0.3" fill="#111" text-anchor="middle">(c)</text>
<text x="382.25" y="454.05" font-size="7.3" font-weight="bold" letter-spacing="0.3" fill="#111" text-anchor="middle">(d)</text>
<text x="399.12" y="454.05" font-size="7.3" font-weight="bold" letter-spacing="0.3" fill="#111" text-anchor="middle">(e)</text>
<text x="410.38" y="454.05" font-size="7.3" font-weight="bold" letter-spacing="0.3" fill="#111" text-anchor="middle">(f)</text>
<text x="421.62" y="454.05" font-size="7.3" font-weight="bold" letter-spacing="0.3" fill="#111" text-anchor="middle">(g)</text>
<rect x="57.5" y="527.95" width="8.6" height="9.15" fill="#00ff00" stroke="#222" stroke-width="1"/>
<rect x="57.5" y="500.83" width="8.6" height="27.12" fill="#ffa500" stroke="#222" stroke-width="1"/>
<rect x="57.5" y="484.22" width="8.6" height="16.61" fill="#ffff00" stroke="#222" stroke-width="1"/>
<rect x="57.5" y="469.3" width="8.6" height="14.92" fill="url(#h)" stroke="#222" stroke-width="1"/>
<rect x="68.75" y="527.95" width="8.6" height="9.15" fill="#00ff00" stroke="#222" stroke-width="1"/>
<rect x="68.75" y="500.83" width="8.6" height="27.12" fill="#ffa500" stroke="#222" stroke-width="1"/>
<rect x="68.75" y="484.22" width="8.6" height="16.61" fill="#ffff00" stroke="#222" stroke-width="1"/>
<rect x="68.75" y="469.3" width="8.6" height="14.92" fill="url(#h)" stroke="#222" stroke-width="1"/>
<rect x="80" y="527.95" width="8.6" height="9.15" fill="#00ff00" stroke="#222" stroke-width="1"/>
<rect x="80" y="500.83" width="8.6" height="27.12" fill="#ffa500" stroke="#222" stroke-width="1"/>
<rect x="80" y="484.22" width="8.6" height="16.61" fill="#ffff00" stroke="#222" stroke-width="1"/>
<rect x="80" y="469.3" width="8.6" height="14.92" fill="url(#h)" stroke="#222" stroke-width="1"/>
<rect x="91.25" y="527.95" width="8.6" height="9.15" fill="#00ff00" stroke="#222" stroke-width="1"/>
<rect x="91.25" y="500.83" width="8.6" height="27.12" fill="#ffa500" stroke="#222" stroke-width="1"/>
<rect x="91.25" y="484.22" width="8.6" height="16.61" fill="#ffff00" stroke="#222" stroke-width="1"/>
<rect x="91.25" y="469.3" width="8.6" height="14.92" fill="url(#h)" stroke="#222" stroke-width="1"/>
<rect x="108.12" y="523.34" width="8.6" height="13.76" fill="#00ff00" stroke="#222" stroke-width="1"/>
<rect x="108.12" y="501.84" width="8.6" height="21.49" fill="url(#h)" stroke="#222" stroke-width="1"/>
<rect x="119.38" y="523.74" width="8.6" height="13.36" fill="#00ff00" stroke="#222" stroke-width="1"/>
<rect x="119.38" y="501.84" width="8.6" height="21.9" fill="url(#h)" stroke="#222" stroke-width="1"/>
<rect x="130.62" y="508.49" width="8.6" height="28.61" fill="#00ff00" stroke="#222" stroke-width="1"/>
<rect x="130.62" y="469.3" width="8.6" height="39.19" fill="url(#h)" stroke="#222" stroke-width="1"/>
<text transform="translate(98.35,466.9) scale(0.93,1)" font-size="11.4" text-anchor="middle">#438</text>
<text x="62" y="544.9" font-size="7.3" font-weight="bold" letter-spacing="0.3" fill="#111" text-anchor="middle">(a)</text>
<text x="73.25" y="544.9" font-size="7.3" font-weight="bold" letter-spacing="0.3" fill="#111" text-anchor="middle">(b)</text>
<text x="84.5" y="544.9" font-size="7.3" font-weight="bold" letter-spacing="0.3" fill="#111" text-anchor="middle">(c)</text>
<text x="95.75" y="544.9" font-size="7.3" font-weight="bold" letter-spacing="0.3" fill="#111" text-anchor="middle">(d)</text>
<text x="112.62" y="544.9" font-size="7.3" font-weight="bold" letter-spacing="0.3" fill="#111" text-anchor="middle">(e)</text>
<text x="123.88" y="544.9" font-size="7.3" font-weight="bold" letter-spacing="0.3" fill="#111" text-anchor="middle">(f)</text>
<text x="135.12" y="544.9" font-size="7.3" font-weight="bold" letter-spacing="0.3" fill="#111" text-anchor="middle">(g)</text>
<path d="M50.5,15.05H146V82.85H50.5ZM50.5,76.07h2.8M146,76.07h-2.8M50.5,69.29h4.3M146,69.29h-4.3M50.5,62.51h2.8M146,62.51h-2.8M50.5,55.73h4.3M146,55.73h-4.3M50.5,48.95h2.8M146,48.95h-2.8M50.5,42.17h4.3M146,42.17h-4.3M50.5,35.39h2.8M146,35.39h-2.8M50.5,28.61h4.3M146,28.61h-4.3M50.5,21.83h2.8M146,21.83h-2.8M146,15.05H241.5V82.85H146ZM146,76.07h2.8M241.5,76.07h-2.8M146,69.29h4.3M241.5,69.29h-4.3M146,62.51h2.8M241.5,62.51h-2.8M146,55.73h4.3M241.5,55.73h-4.3M146,48.95h2.8M241.5,48.95h-2.8M146,42.17h4.3M241.5,42.17h-4.3M146,35.39h2.8M241.5,35.39h-2.8M146,28.61h4.3M241.5,28.61h-4.3M146,21.83h2.8M241.5,21.83h-2.8M241.5,15.05H337V82.85H241.5ZM241.5,76.07h2.8M337,76.07h-2.8M241.5,69.29h4.3M337,69.29h-4.3M241.5,62.51h2.8M337,62.51h-2.8M241.5,55.73h4.3M337,55.73h-4.3M241.5,48.95h2.8M337,48.95h-2.8M241.5,42.17h4.3M337,42.17h-4.3M241.5,35.39h2.8M337,35.39h-2.8M241.5,28.61h4.3M337,28.61h-4.3M241.5,21.83h2.8M337,21.83h-2.8M337,15.05H432.5V82.85H337ZM337,76.07h2.8M432.5,76.07h-2.8M337,69.29h4.3M432.5,69.29h-4.3M337,62.51h2.8M432.5,62.51h-2.8M337,55.73h4.3M432.5,55.73h-4.3M337,48.95h2.8M432.5,48.95h-2.8M337,42.17h4.3M432.5,42.17h-4.3M337,35.39h2.8M432.5,35.39h-2.8M337,28.61h4.3M432.5,28.61h-4.3M337,21.83h2.8M432.5,21.83h-2.8M50.5,105.9H146V173.7H50.5ZM50.5,166.92h2.8M146,166.92h-2.8M50.5,160.14h4.3M146,160.14h-4.3M50.5,153.36h2.8M146,153.36h-2.8M50.5,146.58h4.3M146,146.58h-4.3M50.5,139.8h2.8M146,139.8h-2.8M50.5,133.02h4.3M146,133.02h-4.3M50.5,126.24h2.8M146,126.24h-2.8M50.5,119.46h4.3M146,119.46h-4.3M50.5,112.68h2.8M146,112.68h-2.8M146,105.9H241.5V173.7H146ZM146,166.92h2.8M241.5,166.92h-2.8M146,160.14h4.3M241.5,160.14h-4.3M146,153.36h2.8M241.5,153.36h-2.8M146,146.58h4.3M241.5,146.58h-4.3M146,139.8h2.8M241.5,139.8h-2.8M146,133.02h4.3M241.5,133.02h-4.3M146,126.24h2.8M241.5,126.24h-2.8M146,119.46h4.3M241.5,119.46h-4.3M146,112.68h2.8M241.5,112.68h-2.8M241.5,105.9H337V173.7H241.5ZM241.5,166.92h2.8M337,166.92h-2.8M241.5,160.14h4.3M337,160.14h-4.3M241.5,153.36h2.8M337,153.36h-2.8M241.5,146.58h4.3M337,146.58h-4.3M241.5,139.8h2.8M337,139.8h-2.8M241.5,133.02h4.3M337,133.02h-4.3M241.5,126.24h2.8M337,126.24h-2.8M241.5,119.46h4.3M337,119.46h-4.3M241.5,112.68h2.8M337,112.68h-2.8M337,105.9H432.5V173.7H337ZM337,166.92h2.8M432.5,166.92h-2.8M337,160.14h4.3M432.5,160.14h-4.3M337,153.36h2.8M432.5,153.36h-2.8M337,146.58h4.3M432.5,146.58h-4.3M337,139.8h2.8M432.5,139.8h-2.8M337,133.02h4.3M432.5,133.02h-4.3M337,126.24h2.8M432.5,126.24h-2.8M337,119.46h4.3M432.5,119.46h-4.3M337,112.68h2.8M432.5,112.68h-2.8M50.5,196.75H146V264.55H50.5ZM50.5,257.77h2.8M146,257.77h-2.8M50.5,250.99h4.3M146,250.99h-4.3M50.5,244.21h2.8M146,244.21h-2.8M50.5,237.43h4.3M146,237.43h-4.3M50.5,230.65h2.8M146,230.65h-2.8M50.5,223.87h4.3M146,223.87h-4.3M50.5,217.09h2.8M146,217.09h-2.8M50.5,210.31h4.3M146,210.31h-4.3M50.5,203.53h2.8M146,203.53h-2.8M146,196.75H241.5V264.55H146ZM146,257.77h2.8M241.5,257.77h-2.8M146,250.99h4.3M241.5,250.99h-4.3M146,244.21h2.8M241.5,244.21h-2.8M146,237.43h4.3M241.5,237.43h-4.3M146,230.65h2.8M241.5,230.65h-2.8M146,223.87h4.3M241.5,223.87h-4.3M146,217.09h2.8M241.5,217.09h-2.8M146,210.31h4.3M241.5,210.31h-4.3M146,203.53h2.8M241.5,203.53h-2.8M241.5,196.75H337V264.55H241.5ZM241.5,257.77h2.8M337,257.77h-2.8M241.5,250.99h4.3M337,250.99h-4.3M241.5,244.21h2.8M337,244.21h-2.8M241.5,237.43h4.3M337,237.43h-4.3M241.5,230.65h2.8M337,230.65h-2.8M241.5,223.87h4.3M337,223.87h-4.3M241.5,217.09h2.8M337,217.09h-2.8M241.5,210.31h4.3M337,210.31h-4.3M241.5,203.53h2.8M337,203.53h-2.8M337,196.75H432.5V264.55H337ZM337,257.77h2.8M432.5,257.77h-2.8M337,250.99h4.3M432.5,250.99h-4.3M337,244.21h2.8M432.5,244.21h-2.8M337,237.43h4.3M432.5,237.43h-4.3M337,230.65h2.8M432.5,230.65h-2.8M337,223.87h4.3M432.5,223.87h-4.3M337,217.09h2.8M432.5,217.09h-2.8M337,210.31h4.3M432.5,210.31h-4.3M337,203.53h2.8M432.5,203.53h-2.8M50.5,287.6H146V355.4H50.5ZM50.5,348.62h2.8M146,348.62h-2.8M50.5,341.84h4.3M146,341.84h-4.3M50.5,335.06h2.8M146,335.06h-2.8M50.5,328.28h4.3M146,328.28h-4.3M50.5,321.5h2.8M146,321.5h-2.8M50.5,314.72h4.3M146,314.72h-4.3M50.5,307.94h2.8M146,307.94h-2.8M50.5,301.16h4.3M146,301.16h-4.3M50.5,294.38h2.8M146,294.38h-2.8M146,287.6H241.5V355.4H146ZM146,348.62h2.8M241.5,348.62h-2.8M146,341.84h4.3M241.5,341.84h-4.3M146,335.06h2.8M241.5,335.06h-2.8M146,328.28h4.3M241.5,328.28h-4.3M146,321.5h2.8M241.5,321.5h-2.8M146,314.72h4.3M241.5,314.72h-4.3M146,307.94h2.8M241.5,307.94h-2.8M146,301.16h4.3M241.5,301.16h-4.3M146,294.38h2.8M241.5,294.38h-2.8M241.5,287.6H337V355.4H241.5ZM241.5,348.62h2.8M337,348.62h-2.8M241.5,341.84h4.3M337,341.84h-4.3M241.5,335.06h2.8M337,335.06h-2.8M241.5,328.28h4.3M337,328.28h-4.3M241.5,321.5h2.8M337,321.5h-2.8M241.5,314.72h4.3M337,314.72h-4.3M241.5,307.94h2.8M337,307.94h-2.8M241.5,301.16h4.3M337,301.16h-4.3M241.5,294.38h2.8M337,294.38h-2.8M337,287.6H432.5V355.4H337ZM337,348.62h2.8M432.5,348.62h-2.8M337,341.84h4.3M432.5,341.84h-4.3M337,335.06h2.8M432.5,335.06h-2.8M337,328.28h4.3M432.5,328.28h-4.3M337,321.5h2.8M432.5,321.5h-2.8M337,314.72h4.3M432.5,314.72h-4.3M337,307.94h2.8M432.5,307.94h-2.8M337,301.16h4.3M432.5,301.16h-4.3M337,294.38h2.8M432.5,294.38h-2.8M50.5,378.45H146V446.25H50.5ZM50.5,439.47h2.8M146,439.47h-2.8M50.5,432.69h4.3M146,432.69h-4.3M50.5,425.91h2.8M146,425.91h-2.8M50.5,419.13h4.3M146,419.13h-4.3M50.5,412.35h2.8M146,412.35h-2.8M50.5,405.57h4.3M146,405.57h-4.3M50.5,398.79h2.8M146,398.79h-2.8M50.5,392.01h4.3M146,392.01h-4.3M50.5,385.23h2.8M146,385.23h-2.8M146,378.45H241.5V446.25H146ZM146,439.47h2.8M241.5,439.47h-2.8M146,432.69h4.3M241.5,432.69h-4.3M146,425.91h2.8M241.5,425.91h-2.8M146,419.13h4.3M241.5,419.13h-4.3M146,412.35h2.8M241.5,412.35h-2.8M146,405.57h4.3M241.5,405.57h-4.3M146,398.79h2.8M241.5,398.79h-2.8M146,392.01h4.3M241.5,392.01h-4.3M146,385.23h2.8M241.5,385.23h-2.8M241.5,378.45H337V446.25H241.5ZM241.5,439.47h2.8M337,439.47h-2.8M241.5,432.69h4.3M337,432.69h-4.3M241.5,425.91h2.8M337,425.91h-2.8M241.5,419.13h4.3M337,419.13h-4.3M241.5,412.35h2.8M337,412.35h-2.8M241.5,405.57h4.3M337,405.57h-4.3M241.5,398.79h2.8M337,398.79h-2.8M241.5,392.01h4.3M337,392.01h-4.3M241.5,385.23h2.8M337,385.23h-2.8M337,378.45H432.5V446.25H337ZM337,439.47h2.8M432.5,439.47h-2.8M337,432.69h4.3M432.5,432.69h-4.3M337,425.91h2.8M432.5,425.91h-2.8M337,419.13h4.3M432.5,419.13h-4.3M337,412.35h2.8M432.5,412.35h-2.8M337,405.57h4.3M432.5,405.57h-4.3M337,398.79h2.8M432.5,398.79h-2.8M337,392.01h4.3M432.5,392.01h-4.3M337,385.23h2.8M432.5,385.23h-2.8M50.5,469.3H146V537.1H50.5ZM50.5,530.32h2.8M146,530.32h-2.8M50.5,523.54h4.3M146,523.54h-4.3M50.5,516.76h2.8M146,516.76h-2.8M50.5,509.98h4.3M146,509.98h-4.3M50.5,503.2h2.8M146,503.2h-2.8M50.5,496.42h4.3M146,496.42h-4.3M50.5,489.64h2.8M146,489.64h-2.8M50.5,482.86h4.3M146,482.86h-4.3M50.5,476.08h2.8M146,476.08h-2.8" stroke="#4a4a4a" stroke-width="1.3" fill="none"/>
<text transform="translate(46.8,86.6) scale(0.92,1)" font-size="11.6" text-anchor="end">0.0</text>
<text transform="translate(46.8,73.04) scale(0.92,1)" font-size="11.6" text-anchor="end">0.2</text>
<text transform="translate(46.8,59.48) scale(0.92,1)" font-size="11.6" text-anchor="end">0.4</text>
<text transform="translate(46.8,45.92) scale(0.92,1)" font-size="11.6" text-anchor="end">0.6</text>
<text transform="translate(46.8,32.36) scale(0.92,1)" font-size="11.6" text-anchor="end">0.8</text>
<text transform="translate(46.8,18.8) scale(0.92,1)" font-size="11.6" text-anchor="end">1.0</text>
<text transform="translate(16,49.75) rotate(-90)" font-size="11.7" text-anchor="middle">Fraction of</text>
<text transform="translate(28.2,49.85) rotate(-90)" font-size="11.5" text-anchor="middle">contacts</text>
<text transform="translate(46.8,177.45) scale(0.92,1)" font-size="11.6" text-anchor="end">0.0</text>
<text transform="translate(46.8,163.89) scale(0.92,1)" font-size="11.6" text-anchor="end">0.2</text>
<text transform="translate(46.8,150.33) scale(0.92,1)" font-size="11.6" text-anchor="end">0.4</text>
<text transform="translate(46.8,136.77) scale(0.92,1)" font-size="11.6" text-anchor="end">0.6</text>
<text transform="translate(46.8,123.21) scale(0.92,1)" font-size="11.6" text-anchor="end">0.8</text>
<text transform="translate(46.8,109.65) scale(0.92,1)" font-size="11.6" text-anchor="end">1.0</text>
<text transform="translate(16,140.6) rotate(-90)" font-size="11.7" text-anchor="middle">Fraction of</text>
<text transform="translate(28.2,140.7) rotate(-90)" font-size="11.5" text-anchor="middle">contacts</text>
<text transform="translate(46.8,268.3) scale(0.92,1)" font-size="11.6" text-anchor="end">0.0</text>
<text transform="translate(46.8,254.74) scale(0.92,1)" font-size="11.6" text-anchor="end">0.2</text>
<text transform="translate(46.8,241.18) scale(0.92,1)" font-size="11.6" text-anchor="end">0.4</text>
<text transform="translate(46.8,227.62) scale(0.92,1)" font-size="11.6" text-anchor="end">0.6</text>
<text transform="translate(46.8,214.06) scale(0.92,1)" font-size="11.6" text-anchor="end">0.8</text>
<text transform="translate(46.8,200.5) scale(0.92,1)" font-size="11.6" text-anchor="end">1.0</text>
<text transform="translate(16,231.45) rotate(-90)" font-size="11.7" text-anchor="middle">Fraction of</text>
<text transform="translate(28.2,231.55) rotate(-90)" font-size="11.5" text-anchor="middle">contacts</text>
<text transform="translate(46.8,359.15) scale(0.92,1)" font-size="11.6" text-anchor="end">0.0</text>
<text transform="translate(46.8,345.59) scale(0.92,1)" font-size="11.6" text-anchor="end">0.2</text>
<text transform="translate(46.8,332.03) scale(0.92,1)" font-size="11.6" text-anchor="end">0.4</text>
<text transform="translate(46.8,318.47) scale(0.92,1)" font-size="11.6" text-anchor="end">0.6</text>
<text transform="translate(46.8,304.91) scale(0.92,1)" font-size="11.6" text-anchor="end">0.8</text>
<text transform="translate(46.8,291.35) scale(0.92,1)" font-size="11.6" text-anchor="end">1.0</text>
<text transform="translate(16,322.3) rotate(-90)" font-size="11.7" text-anchor="middle">Fraction of</text>
<text transform="translate(28.2,322.4) rotate(-90)" font-size="11.5" text-anchor="middle">contacts</text>
<text transform="translate(46.8,450) scale(0.92,1)" font-size="11.6" text-anchor="end">0.0</text>
<text transform="translate(46.8,436.44) scale(0.92,1)" font-size="11.6" text-anchor="end">0.2</text>
<text transform="translate(46.8,422.88) scale(0.92,1)" font-size="11.6" text-anchor="end">0.4</text>
<text transform="translate(46.8,409.32) scale(0.92,1)" font-size="11.6" text-anchor="end">0.6</text>
<text transform="translate(46.8,395.76) scale(0.92,1)" font-size="11.6" text-anchor="end">0.8</text>
<text transform="translate(46.8,382.2) scale(0.92,1)" font-size="11.6" text-anchor="end">1.0</text>
<text transform="translate(16,413.15) rotate(-90)" font-size="11.7" text-anchor="middle">Fraction of</text>
<text transform="translate(28.2,413.25) rotate(-90)" font-size="11.5" text-anchor="middle">contacts</text>
<text transform="translate(46.8,540.85) scale(0.92,1)" font-size="11.6" text-anchor="end">0.0</text>
<text transform="translate(46.8,527.29) scale(0.92,1)" font-size="11.6" text-anchor="end">0.2</text>
<text transform="translate(46.8,513.73) scale(0.92,1)" font-size="11.6" text-anchor="end">0.4</text>
<text transform="translate(46.8,500.17) scale(0.92,1)" font-size="11.6" text-anchor="end">0.6</text>
<text transform="translate(46.8,486.61) scale(0.92,1)" font-size="11.6" text-anchor="end">0.8</text>
<text transform="translate(46.8,473.05) scale(0.92,1)" font-size="11.6" text-anchor="end">1.0</text>
<text transform="translate(16,504) rotate(-90)" font-size="11.7" text-anchor="middle">Fraction of</text>
<text transform="translate(28.2,504.1) rotate(-90)" font-size="11.5" text-anchor="middle">contacts</text>
<text x="197.3" y="480.8" font-size="11.5">Contacts:</text>
<rect x="197.8" y="488.6" width="8.6" height="8.6" fill="#00ff00" stroke="#222" stroke-width="1"/>
<text x="215.8" y="496.2" font-size="11.5">hydrogen bonds</text>
<rect x="197.8" y="501.7" width="8.6" height="8.6" fill="#ffa500" stroke="#222" stroke-width="1"/>
<text x="215.8" y="509.3" font-size="11.5">aromatic</text>
<rect x="197.8" y="514.8" width="8.6" height="8.6" fill="#ffff00" stroke="#222" stroke-width="1"/>
<text x="215.8" y="522.4" font-size="11.5">hydrophobic</text>
<rect x="197.8" y="527.9" width="8.6" height="8.6" fill="url(#h)" stroke="#222" stroke-width="1"/>
<text x="215.8" y="535.5" font-size="11.5">destabilizing</text>
<text x="316.8" y="480.7" font-size="11.5">Gram-negative:</text>
<text x="391.8" y="480.7" font-size="11.5">(<tspan font-weight="bold">a-d</tspan>)</text>
<text x="316.8" y="493.6" font-size="11.5">Gram-positive:</text>
<text x="391.8" y="493.6" font-size="11.5">(<tspan font-weight="bold">e-g</tspan>)</text>
</svg></body></html>
